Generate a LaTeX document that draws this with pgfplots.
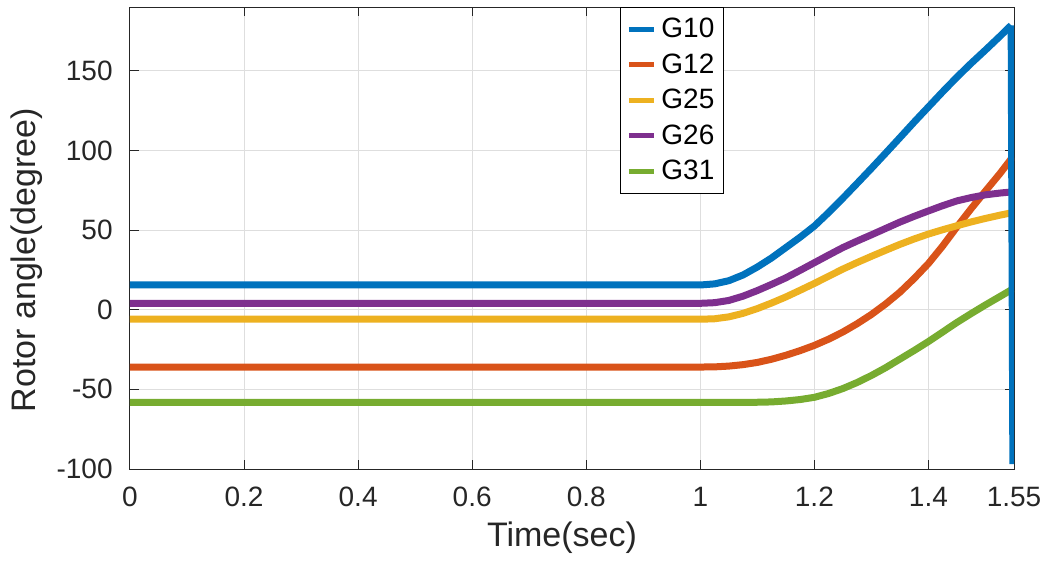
\documentclass[border=0pt]{standalone}
\usepackage{fontspec}
\setmainfont{Liberation Sans}
\usepackage{pgfplots}
\pgfplotsset{compat=1.18}

\definecolor{mblue}{rgb}{0,0.447,0.741}
\definecolor{morange}{rgb}{0.850,0.325,0.098}
\definecolor{myellow}{rgb}{0.929,0.694,0.125}
\definecolor{mpurple}{rgb}{0.494,0.184,0.556}
\definecolor{mgreen}{rgb}{0.466,0.674,0.188}

\begin{document}
\begin{tikzpicture}
% page = 524.5pt x 281pt, axis box 442pt x 231pt
\useasboundingbox (-65pt,-46.5pt) rectangle (459.5pt,234.5pt);
\begin{axis}[
  scale only axis, width=442pt, height=231pt,
  xmin=0, xmax=1.55, ymin=-100, ymax=190,
  xtick={0,0.2,0.4,0.6,0.8,1,1.2,1.4,1.55},
  xticklabels={0,0.2,0.4,0.6,0.8,1,1.2,1.4,1.55},
  ytick={-100,-50,0,50,100,150},
  yticklabels={-100,-50,0,50,100,150},
  grid=major, grid style={black!13, line width=0.5pt},
  tick align=inside, major tick length=4.5pt,
  axis line style={black!85, line width=0.5pt},
  tick style={black!85, line width=0.5pt},
  ticklabel style={font=\fontsize{14}{16}\selectfont, text=black!85},
  xticklabel style={anchor=base, inner sep=0pt, yshift=-18.8pt},
  yticklabel style={anchor=east, inner sep=0pt, xshift=-8.5pt},
  xlabel={Time(sec)}, ylabel={Rotor angle(degree)},
  label style={font=\fontsize{17}{19}\selectfont, text=black!85},
  xlabel style={at={(axis description cs:0.4887,-0.1688)}, anchor=base},
  ylabel style={at={(axis description cs:-0.1165,0.452)}, anchor=center},
  every axis plot/.append style={line width=3.5pt, line join=round},
  legend cell align=left,
  legend image code/.code={\draw[#1, line width=2.5pt] (0pt,0pt) -- (12.5pt,0pt);},
  legend style={at={(0.613,1)}, anchor=north, draw=black, line width=0.5pt,
    font=\fontsize{14}{16}\selectfont, row sep=3.5pt, column sep=1pt,
    inner xsep=3pt, inner ysep=3.75pt,
    nodes={inner sep=1.5pt}},
]
\addplot[mblue] coordinates {
(0,15.5) (1.0,15.5) (1.025,16.2) (1.05,18.2) (1.075,21.8) (1.1,26.8)
(1.125,32.5) (1.15,39) (1.175,45.5) (1.2,52.5) (1.225,61) (1.25,70)
(1.275,79.3) (1.3,88.7) (1.325,98.3) (1.35,108) (1.375,117.8) (1.4,127.3)
(1.425,136.8) (1.45,146) (1.475,154.7) (1.5,163) (1.525,171.5) (1.545,178.5)};
\addlegendentry{G10}
\addplot[morange] coordinates {
(0,-36) (1.0,-36) (1.025,-35.9) (1.05,-35.4) (1.075,-34.5) (1.1,-33.1)
(1.125,-31.1) (1.15,-28.6) (1.175,-25.7) (1.2,-22.4) (1.225,-18.5) (1.25,-14)
(1.275,-8.8) (1.3,-3) (1.325,3.6) (1.35,11) (1.375,19.6) (1.4,29)
(1.425,40) (1.45,52) (1.475,63.5) (1.5,74.5) (1.525,85.3) (1.548,96)};
\addlegendentry{G12}
\addplot[myellow] coordinates {
(0,-6) (1.0,-6) (1.025,-5.7) (1.05,-4.5) (1.075,-2.3) (1.1,0.7)
(1.125,4.2) (1.15,8) (1.175,12.2) (1.2,16.5) (1.225,21) (1.25,25.5)
(1.275,29.6) (1.3,33.5) (1.325,37.3) (1.35,41) (1.375,44.4) (1.4,47.5)
(1.425,50.2) (1.45,52.7) (1.475,55.1) (1.5,57.3) (1.525,59.3) (1.548,61)};
\addlegendentry{G25}
\addplot[mpurple] coordinates {
(0,4) (1.0,4) (1.025,4.4) (1.05,5.8) (1.075,8.5) (1.1,12)
(1.125,15.9) (1.15,20) (1.175,24.7) (1.2,29.5) (1.225,34.3) (1.25,39)
(1.275,43.1) (1.3,47) (1.325,51) (1.35,55) (1.375,58.6) (1.4,62)
(1.425,65.3) (1.45,68.3) (1.475,70.4) (1.5,72.1) (1.525,73.2) (1.548,74)};
\addlegendentry{G26}
\addplot[mgreen] coordinates {
(0,-58.2) (1.075,-58.2) (1.1,-58.1) (1.125,-57.9) (1.15,-57.3) (1.175,-56.4)
(1.2,-55) (1.225,-52.6) (1.25,-49.5) (1.275,-45.7) (1.3,-41.3) (1.325,-36.4)
(1.35,-31) (1.375,-25.6) (1.4,-20) (1.425,-14) (1.45,-8) (1.475,-2.4)
(1.5,3) (1.525,8.2) (1.548,13)};
\addlegendentry{G31}
\addplot[mblue, forget plot] coordinates {(1.545,178.5) (1.548,-97)};
\end{axis}
\end{tikzpicture}
\end{document}
